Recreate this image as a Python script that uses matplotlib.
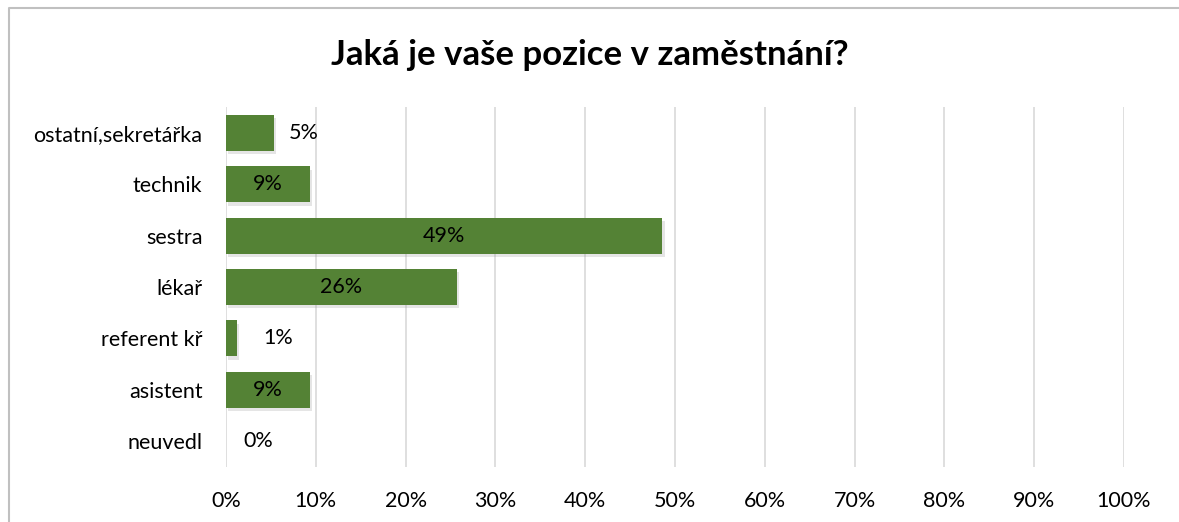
import matplotlib.pyplot as plt
from matplotlib.lines import Line2D
import matplotlib.patheffects as pe

plt.rcParams['font.family'] = ['Lato', 'DejaVu Sans']

# data (top to bottom as shown)
categories = ["ostatní,sekretářka", "technik", "sestra", "lékař", "referent kř", "asistent", "neuvedl"]
values = [5.3, 9.3, 48.6, 25.7, 1.2, 9.3, 0.0]
labels = ["5%", "9%", "49%", "26%", "1%", "9%", "0%"]
inside = [False, True, True, True, False, True, False]
outside_pad = [15, 0, 0, 0, 27, 0, 17]

fig = plt.figure(figsize=(11.79, 5.22), dpi=100)
ax = fig.add_axes([226 / 1179, 1 - 467 / 522, (1124 - 226) / 1179, (467 - 107) / 522])

# outer chart border: only left and top edges fall inside the image
bx, by = 8.5 / 1179, 1 - 7.5 / 522
fig.add_artist(Line2D([bx, bx, 1.0], [0.0, by, by], transform=fig.transFigure,
                      color="#c0c0c0", linewidth=1.5))

y = list(range(len(categories)))[::-1]
bars = ax.barh(y, values, height=0.7, color="#548235", zorder=3,
               path_effects=[pe.SimplePatchShadow(offset=(1.5, -2.5), shadow_rgbFace="#999999", alpha=0.25),
                             pe.Normal()])

for yi, v, lab, ins, pad in zip(y, values, labels, inside, outside_pad):
    if ins:
        ax.text(v / 2, yi, lab, ha="center", va="center", fontsize=15.5, color="black", zorder=4)
    else:
        ax.annotate(lab, (v, yi), xytext=(pad, 0), textcoords="offset pixels",
                    ha="left", va="center", fontsize=15.5, color="black", zorder=4)

ax.set_xlim(0, 100)
ax.set_ylim(-0.5, len(categories) - 0.5)
ax.set_xticks(range(0, 101, 10))
ax.set_xticklabels([f"{t}%" for t in range(0, 101, 10)], fontsize=15.5)
ax.set_yticks(y)
ax.set_yticklabels(categories, fontsize=15.5)
ax.tick_params(axis="both", length=0)
ax.tick_params(axis="x", pad=17)
ax.tick_params(axis="y", pad=17)
ax.grid(axis="x", color="#d9d9d9", linewidth=1.2, zorder=0)
for s in ax.spines.values():
    s.set_visible(False)

fig.text(0.5, 1 - 55 / 522, "Jaká je vaše pozice v zaměstnání?", ha="center", va="center",
         fontsize=25, fontweight="bold")

fig.savefig("out.png", dpi=100)
